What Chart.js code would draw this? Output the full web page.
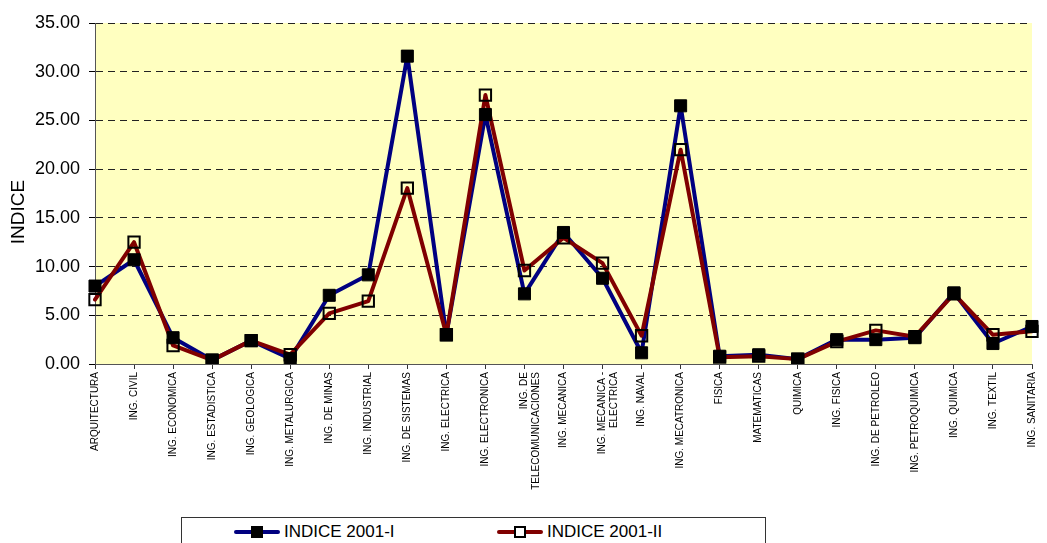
<!DOCTYPE html>
<html>
<head>
<meta charset="utf-8">
<script src="https://cdn.jsdelivr.net/npm/chart.js@4.4.1/dist/chart.umd.min.js"></script>
<style>
  html, body { margin: 0; padding: 0; background: #fff; }
  #wrap { position: relative; width: 1047px; height: 543px; overflow: hidden; font-family: Arial, "Liberation Sans", sans-serif; }
  #wrap canvas { position: absolute; left: 0; top: 0; }
  #leyenda { position: absolute; left: 181px; top: 517px; width: 585px; height: 40px; border: 1px solid #333; background: #fff; box-sizing: border-box; }
  .item { position: absolute; top: 4px; height: 20px; font-size: 17px; line-height: 20px; color: #000; }
  .item .linea { position: absolute; top: 8px; width: 46px; height: 4px; border-radius: 2px; }
  .item .marca { position: absolute; top: 4px; width: 12px; height: 12px; box-sizing: border-box; }
  .item .texto { position: absolute; left: 50px; top: 0; white-space: nowrap; }
</style>
</head>
<body>
<div id="wrap">
  <canvas id="grafico" width="1047" height="543"></canvas>
  <div id="leyenda">
    <div class="item" style="left:52px">
      <div class="linea" style="background:#000080"></div>
      <div class="marca" style="left:17px;background:#000;border:1px solid #000"></div>
      <span class="texto">INDICE 2001-I</span>
    </div>
    <div class="item" style="left:315px">
      <div class="linea" style="background:#800000"></div>
      <div class="marca" style="left:17px;background:#fff;border:2px solid #000"></div>
      <span class="texto">INDICE 2001-II</span>
    </div>
  </div>
</div>
<script>
// Carreras (etiquetas del eje X)
const carreras = [
  "ARQUITECTURA", "ING. CIVIL", "ING. ECONOMICA", "ING. ESTADISTICA",
  "ING. GEOLOGICA", "ING. METALURGICA", "ING. DE MINAS", "ING. INDUSTRIAL",
  "ING. DE SISTEMAS", "ING. ELECTRICA", "ING. ELECTRONICA",
  ["ING. DE", "TELECOMUNICACIONES"], "ING. MECANICA", ["ING. MECANICA -", "ELECTRICA"],
  "ING. NAVAL", "ING. MECATRONICA", "FISICA", "MATEMATICAS", "QUIMICA",
  "ING. FISICA", "ING. DE PETROLEO", "ING. PETROQUIMICA", "ING. QUIMICA",
  "ING. TEXTIL", "ING. SANITARIA"
];

// Indices por semestre
const indice2001I = [8.0, 10.7, 2.7, 0.4, 2.4, 0.55, 7.05, 9.15, 31.6, 3.0, 25.6, 7.2, 13.5,
  8.8, 1.15, 26.5, 0.8, 0.95, 0.5, 2.5, 2.5, 2.7, 7.3, 2.1, 3.85];
const indice2001II = [6.6, 12.5, 1.9, 0.4, 2.4, 0.95, 5.2, 6.45, 18.05, 3.0, 27.6, 9.6, 12.95,
  10.35, 2.9, 22.0, 0.7, 0.8, 0.5, 2.3, 3.45, 2.8, 7.2, 3.0, 3.35];

// Eje Y
const yMin = 0, yMax = 35, yPaso = 5;

const fuente = "Arial, 'Liberation Sans', sans-serif";

// Fondo amarillo del area del grafico
const fondoArea = {
  id: "fondoArea",
  beforeDraw: (chart) => {
    const { ctx, chartArea } = chart;
    ctx.save();
    ctx.fillStyle = "#FFFFC0";
    ctx.fillRect(chartArea.left, chartArea.top, chartArea.right - chartArea.left, chartArea.bottom - chartArea.top);
    ctx.restore();
  }
};

// Titulo vertical del eje Y
const tituloY = {
  id: "tituloY",
  afterDraw: (chart) => {
    const ctx = chart.ctx;
    ctx.save();
    ctx.translate(19, 212);
    ctx.rotate(-Math.PI / 2);
    ctx.font = `19px ${fuente}`;
    ctx.fillStyle = "#000";
    ctx.textAlign = "center";
    ctx.textBaseline = "middle";
    ctx.fillText("INDICE", 0, 0);
    ctx.restore();
  }
};

new Chart(document.getElementById("grafico"), {
  type: "line",
  data: {
    labels: carreras,
    datasets: [
      // lineas
      { label: "INDICE 2001-I", data: indice2001I, borderColor: "#000080", borderWidth: 4,
        pointRadius: 0, borderJoinStyle: "round", borderCapStyle: "round", tension: 0, order: 4 },
      { label: "INDICE 2001-II", data: indice2001II, borderColor: "#800000", borderWidth: 4,
        pointRadius: 0, borderJoinStyle: "round", borderCapStyle: "round", tension: 0, order: 3 },
      // marcadores encima de las lineas
      { label: "m2", data: indice2001II, showLine: false, pointStyle: "rect", pointRadius: 8,
        pointBackgroundColor: "rgba(0,0,0,0)", pointBorderColor: "#000", pointBorderWidth: 2, order: 2 },
      { label: "m1", data: indice2001I, showLine: false, pointStyle: "rect", pointRadius: 8.5,
        pointBackgroundColor: "#000", pointBorderColor: "#000", pointBorderWidth: 1, order: 1 }
    ]
  },
  options: {
    responsive: false,
    animation: false,
    layout: { padding: { top: 23, right: 5, left: 0, bottom: 0 } },
    plugins: {
      legend: { display: false },
      tooltip: { enabled: false }
    },
    scales: {
      x: {
        offset: false,
        grid: { drawOnChartArea: false, drawTicks: true, tickLength: 5, tickColor: "#333" },
        border: { display: true, color: "#555", width: 1 },
        ticks: {
          autoSkip: false, maxRotation: 90, minRotation: 90, padding: 3,
          color: "#000", font: { family: fuente, size: 10 }
        },
        afterFit: (scale) => { scale.height = 179; }
      },
      y: {
        min: yMin, max: yMax,
        grid: { color: "#222", lineWidth: 1, drawTicks: true, tickLength: 6, tickColor: "#000", tickBorderDash: [] },
        border: { display: true, color: "#555", width: 1, dash: [7, 5] },
        ticks: {
          stepSize: yPaso, padding: 9, color: "#000",
          font: { family: fuente, size: 18 },
          callback: (v) => v.toFixed(2)
        },
        afterFit: (scale) => { scale.width = 95; }
      }
    }
  },
  plugins: [fondoArea, tituloY]
});
</script>
</body>
</html>
